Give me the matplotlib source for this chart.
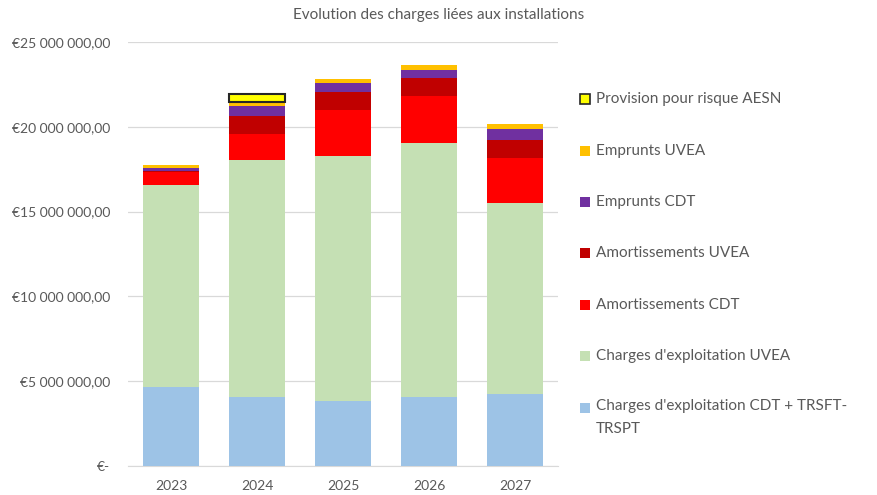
import numpy as np
import matplotlib
matplotlib.use("Agg")
import matplotlib.pyplot as plt
from matplotlib.patches import Rectangle
from matplotlib.ticker import FuncFormatter

plt.rcParams['font.family'] = ['Lato', 'DejaVu Sans']

years = ['2023', '2024', '2025', '2026', '2027']

# valeurs en millions d'euros
expl_cdt = [4.64, 4.09, 3.83, 4.05, 4.25]
expl_uvea = [11.91, 13.94, 14.46, 14.99, 11.24]
amort_cdt = [0.77, 1.55, 2.69, 2.75, 2.67]
amort_uvea = [0.05, 1.06, 1.06, 1.06, 1.06]
empr_cdt = [0.21, 0.57, 0.55, 0.49, 0.63]
empr_uvea = [0.16, 0.24, 0.20, 0.31, 0.33]
provision = [0.0, 0.51, 0.0, 0.0, 0.0]

series = [
    ("Charges d'exploitation CDT + TRSFT-\nTRSPT", expl_cdt, '#9DC3E6', 'none'),
    ("Charges d'exploitation UVEA", expl_uvea, '#C5E0B4', 'none'),
    ('Amortissements CDT', amort_cdt, '#FF0000', 'none'),
    ('Amortissements UVEA', amort_uvea, '#C00000', 'none'),
    ('Emprunts CDT', empr_cdt, '#7030A0', 'none'),
    ('Emprunts UVEA', empr_uvea, '#FFC000', 'none'),
    ('Provision pour risque AESN', provision, '#FFFF00', '#262626'),
]

fig = plt.figure(figsize=(8.78, 4.95), dpi=100)
ax = fig.add_axes([128 / 878, 29 / 495, 430 / 878, 424 / 495])

x = np.arange(len(years))
bottom = np.zeros(len(years))
for name, vals, col, edge in series:
    v = np.array(vals) * 1e6
    if edge != 'none':
        mask = v > 0
        ax.bar(x[mask], v[mask], 0.65, bottom=bottom[mask], color=col,
               edgecolor=edge, linewidth=1.5, zorder=3)
    else:
        ax.bar(x, v, 0.65, bottom=bottom, color=col, zorder=3)
    bottom += v

ax.set_xlim(-0.5, 4.5)
ax.set_ylim(0, 25e6)
ax.set_yticks(np.arange(0, 25e6 + 1, 5e6))


def euro(val, pos):
    if val == 0:
        return '€-'
    s = f"{val:,.2f}".replace(',', ' ').replace('.', ',')
    return '€' + s


ax.yaxis.set_major_formatter(FuncFormatter(euro))
ax.set_xticks(x)
ax.set_xticklabels(years)
ax.grid(axis='y', color='#D9D9D9', linewidth=0.9, zorder=0)
for s in ['top', 'right', 'left']:
    ax.spines[s].set_visible(False)
ax.spines['bottom'].set_color('#D9D9D9')
ax.tick_params(axis='both', length=0, labelsize=10, colors='#595959')
ax.tick_params(axis='y', pad=13)
ax.tick_params(axis='x', pad=10)

fig.text(0.5, 1 - 15 / 495, 'Evolution des charges liées aux installations',
         ha='center', va='center', fontsize=11, color='#595959')

# légende à droite
ys = [99, 151, 202, 253, 305, 356, 408]
for (name, vals, col, edge), yp in zip(series[::-1], ys):
    ew = 1.2 if edge != 'none' else 0
    fig.patches.append(Rectangle((580 / 878, 1 - (yp + 5) / 495), 10 / 878, 10 / 495,
                                 transform=fig.transFigure, facecolor=col,
                                 edgecolor=edge, linewidth=ew))
    if '\n' in name:
        fig.text(596 / 878, 1 - (yp - 9) / 495, name, ha='left', va='top',
                 fontsize=11, color='#595959', linespacing=1.8)
    else:
        fig.text(596 / 878, 1 - yp / 495, name, ha='left', va='center',
                 fontsize=11, color='#595959')

fig.savefig('out.png', dpi=100)
